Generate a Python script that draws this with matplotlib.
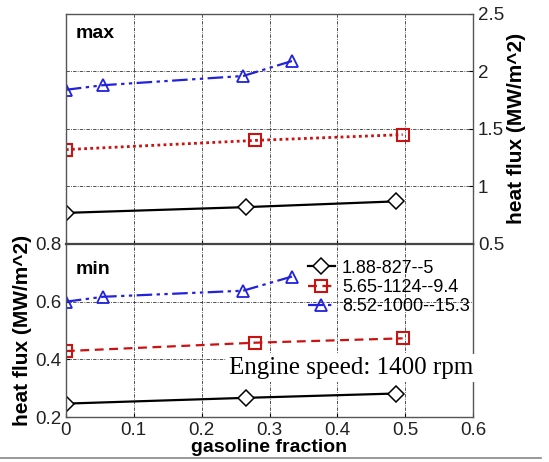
import matplotlib.pyplot as plt
from matplotlib.lines import Line2D

plt.rcParams['font.family'] = ['Liberation Sans', 'DejaVu Sans']

# series labels
labels = ['1.88-827--5', '5.65-1124--9.4', '8.52-1000--15.3']

# max heat flux (top panel)
x_blk_max = [0.0, 0.265, 0.486]
y_blk_max = [0.77, 0.82, 0.87]
x_red_max = [0.0, 0.279, 0.496]
y_red_max = [1.32, 1.40, 1.45]
x_blu_max = [0.0, 0.055, 0.261, 0.333]
y_blu_max = [1.84, 1.88, 1.96, 2.09]

# min heat flux (bottom panel)
x_blk_min = [0.0, 0.265, 0.486]
y_blk_min = [0.247, 0.267, 0.282]
x_red_min = [0.0, 0.279, 0.496]
y_red_min = [0.429, 0.458, 0.473]
x_blu_min = [0.0, 0.055, 0.261, 0.333]
y_blu_min = [0.60, 0.617, 0.638, 0.687]

xticks = [0, 0.1, 0.2, 0.3, 0.4, 0.5, 0.6]
xticklabels = ['0', '0.1', '0.2', '0.3', '0.4', '0.5', '0.6']

fig = plt.figure(figsize=(5.49, 4.62), dpi=100)
ax1 = fig.add_axes([0.120, 0.472, 0.742, 0.498])
ax2 = fig.add_axes([0.120, 0.097, 0.742, 0.375])

ms = 9
dashdotdot = (0, (7, 2, 1.5, 2, 1.5, 2))

def style(ax):
    ax.set_xlim(0, 0.6)
    ax.set_xticks(xticks)
    ax.grid(True, color='#333333', linestyle=(0, (4, 1.5, 1, 1.5)), linewidth=0.6)
    ax.tick_params(direction='in', labelsize=13.5, length=3, labelcolor='#222222')
    for s in ax.spines.values():
        s.set_linewidth(1.0)
        s.set_color('#555555')

# top panel
ax1.plot(x_blk_max, y_blk_max, color='black', lw=1.6, marker='D', ms=ms - 1,
         mfc='white', mec='black', mew=1.1)
ax1.plot(x_red_max, y_red_max, color='#cc1111', lw=2.0, ls=(0, (1, 1.2)), marker='s',
         ms=ms, mfc='none', mec='#cc1111', mew=1.5)
ax1.plot(x_blu_max, y_blu_max, color='#2222dd', lw=1.6, ls=dashdotdot, marker='^',
         ms=ms, mfc='none', mec='#2222dd', mew=1.3)
style(ax1)
ax1.set_ylim(0.5, 2.5)
ax1.set_yticks([0.5, 1, 1.5, 2, 2.5])
ax1.set_yticklabels(['0.5', '1', '1.5', '2', '2.5'])
ax1.yaxis.tick_right()
ax1.yaxis.set_label_position('right')
ax1.set_ylabel('heat flux (MW/m^2)', fontsize=15, fontweight='bold', labelpad=2)
ax1.tick_params(labelbottom=False)
ax1.text(0.025, 0.95, 'max', transform=ax1.transAxes, fontsize=14,
         fontweight='bold', va='top', ha='left')

# bottom panel
ax2.plot(x_blk_min, y_blk_min, color='black', lw=1.6, marker='D', ms=ms - 1,
         mfc='white', mec='black', mew=1.1, label=labels[0])
ax2.plot(x_red_min, y_red_min, color='#cc1111', lw=1.6, ls=(0, (4, 2.5)), marker='s',
         ms=ms, mfc='none', mec='#cc1111', mew=1.5, label=labels[1])
ax2.plot(x_blu_min, y_blu_min, color='#2222dd', lw=1.6, ls=dashdotdot, marker='^',
         ms=ms, mfc='none', mec='#2222dd', mew=1.3, label=labels[2])
style(ax2)
ax2.set_ylim(0.2, 0.8)
ax2.set_yticks([0.2, 0.4, 0.6, 0.8])
ax2.set_yticklabels(['0.2', '0.4', '0.6', '0.8'])
ax2.set_xticklabels(xticklabels)
ax2.set_xlabel('gasoline fraction', fontsize=14, fontweight='bold', labelpad=0)
ax2.set_ylabel('heat flux (MW/m^2)', fontsize=15, fontweight='bold', labelpad=2)
ax2.spines['top'].set_color('#444444')
ax2.spines['top'].set_linewidth(1.6)
ax2.text(0.025, 0.9, 'min', transform=ax2.transAxes, fontsize=14,
         fontweight='bold', va='top', ha='left')
leg = ax2.legend(loc='upper left', bbox_to_anchor=(0.585, 0.93), frameon=False,
                 fontsize=13, handlelength=1.5, handletextpad=0.4,
                 labelspacing=0.12, borderpad=0.2, borderaxespad=0)
ax2.text(0.40, 0.285, 'Engine speed: 1400 rpm', transform=ax2.transAxes,
         fontsize=18, family='Liberation Serif', va='center', ha='left',
         bbox=dict(facecolor='white', edgecolor='none', pad=2), zorder=5,
         clip_on=False)

fig.add_artist(Line2D([0.0, 0.985], [0.008, 0.008], color='#888888', lw=1.2))

fig.savefig('out.png', dpi=100)
